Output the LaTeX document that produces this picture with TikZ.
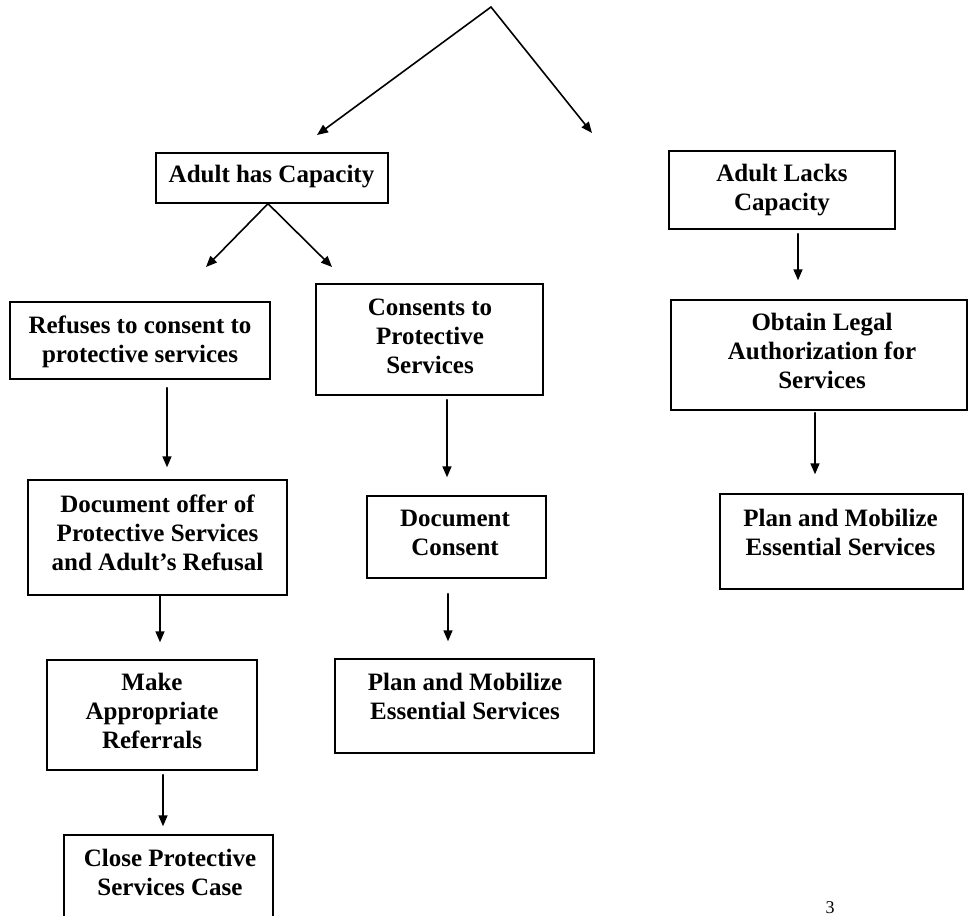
\documentclass[tikz,border=0pt]{standalone}
\usepackage{fontspec}
\setmainfont{Liberation Serif}
\usetikzlibrary{arrows.meta}
\begin{document}
\begin{tikzpicture}[x=1pt,y=-1pt,
  box/.style={draw, line width=1.4pt, inner sep=0pt},
  txt/.style={font=\bfseries\fontsize{25}{29}\selectfont, align=center, inner sep=0pt},
  arr/.style={line width=1.6pt, line cap=round, -{Triangle[length=11pt,width=9pt]}}]
\useasboundingbox (0,0) rectangle (968,915);
\clip (0,0) rectangle (968,915);
% cut-off title
\node[font=\bfseries\fontsize{38}{40}\selectfont, anchor=base west, inner sep=0pt] (title) at (500,-8) {Capacity};
% boxes
\node[box, minimum width=232pt, minimum height=50pt]  (ahc) at (272,178) {};
\node[box, minimum width=226pt, minimum height=78pt]  (alc) at (782,190) {};
\node[box, minimum width=260pt, minimum height=77pt]  (ref) at (140,340.5) {};
\node[box, minimum width=227pt, minimum height=111pt] (con) at (429.5,339.5) {};
\node[box, minimum width=259pt, minimum height=115pt] (doc) at (157.5,537.5) {};
\node[box, minimum width=210pt, minimum height=110pt] (mak) at (152,715) {};
\node[box, minimum width=209pt, minimum height=110pt] (clo) at (168.5,890) {};
\node[box, minimum width=179pt, minimum height=82pt]  (dcs) at (456.5,537) {};
\node[box, minimum width=259pt, minimum height=94pt]  (plm) at (464.5,706) {};
\node[box, minimum width=296pt, minimum height=110pt] (obt) at (819,355) {};
\node[box, minimum width=243pt, minimum height=95pt]  (plr) at (841.5,541.5) {};
% texts
\node[txt] (ahct) at (271.5,177) {Adult has Capacity};
\node[txt] (alct) at (782,190.5) {Adult Lacks\\Capacity};
\node[txt] (reft) at (140,341.5) {Refuses to consent to\\protective services};
\node[txt] (cont) at (430,336) {Consents to\\Protective\\Services};
\node[txt] (doct) at (157.5,533) {Document offer of\\Protective Services\\and Adult’s Refusal};
\node[txt] (makt) at (152,711) {Make\\Appropriate\\Referrals};
\node[txt] (clot) at (170,872.5) {Close Protective\\Services Case};
\node[txt] (dcst) at (455,533) {Document\\Consent};
\node[txt] (plmt) at (465,696) {Plan and Mobilize\\Essential Services};
\node[txt] (obtt) at (822,350.5) {Obtain Legal\\Authorization for\\Services};
\node[txt] (plrt) at (840.5,532) {Plan and Mobilize\\Essential Services};
% page number
\node[font=\fontsize{18}{20}\selectfont, anchor=base, inner sep=0pt] (pg) at (830,913) {3};
% connector coordinates
\coordinate (apex) at (491,7);
\coordinate (ta) at (317,135);
\coordinate (tb) at (592,133);
\coordinate (tc) at (206,267);
\coordinate (td) at (332,267);
\coordinate (x1) at (167,0);
\coordinate (x2) at (160,0);
\coordinate (x3) at (163,0);
\coordinate (x4) at (447,0);
\coordinate (x5) at (448,0);
\coordinate (x6) at (798,0);
\coordinate (x7) at (815,0);
% connectors
\draw[arr] (apex) -- (ta);
\draw[arr] (apex) -- (tb);
\draw[arr] ([xshift=-4pt]ahc.south) -- (tc);
\draw[arr] ([xshift=-4pt]ahc.south) -- (td);
\draw[arr, shorten <=8pt, shorten >=12pt] (ref.south -| x1) -- (doc.north -| x1);
\draw[arr, shorten >=17pt] (doc.south -| x2) -- (mak.north -| x2);
\draw[arr, shorten <=4pt, shorten >=8pt] (mak.south -| x3) -- (clo.north -| x3);
\draw[arr, shorten <=4pt, shorten >=18pt] (con.south -| x4) -- (dcs.north -| x4);
\draw[arr, shorten <=15pt, shorten >=17pt] (dcs.south -| x5) -- (plm.north -| x5);
\draw[arr, shorten <=4pt, shorten >=19pt] (alc.south -| x6) -- (obt.north -| x6);
\draw[arr, shorten <=2pt, shorten >=19pt] (obt.south -| x7) -- (plr.north -| x7);
\end{tikzpicture}
\end{document}
